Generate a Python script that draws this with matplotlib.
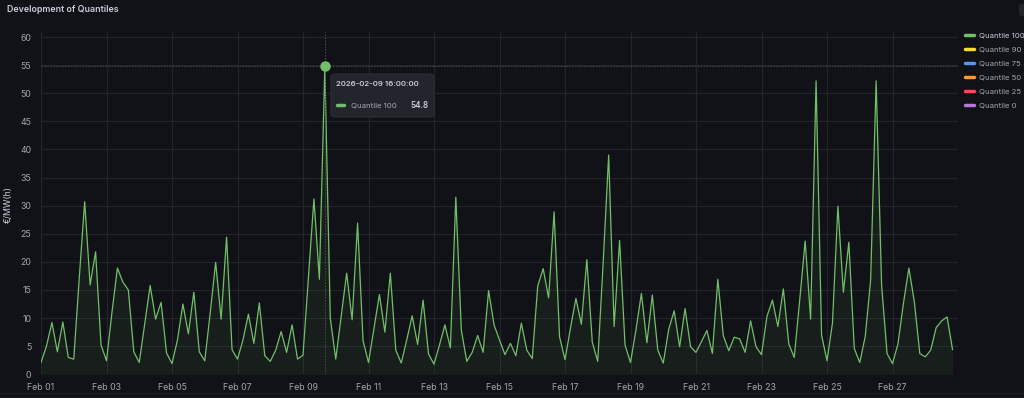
import matplotlib
matplotlib.use("Agg")
import matplotlib.pyplot as plt
import matplotlib.dates as mdates
from matplotlib.patches import FancyBboxPatch
from matplotlib.lines import Line2D
import pandas as pd

plt.rcParams['font.family'] = ['Inter', 'DejaVu Sans']

# ---------------- data ----------------
title = "Development of Quantiles"
y_label = "€/MW(h)"
start_time = "2026-02-01 00:00"
step = "4h"
quantile_100 = [
    2.1, 5.0, 9.2, 4.0, 9.3, 3.0, 2.7, 17.0, 30.7, 15.9, 21.8, 5.2,
    2.4, 11.0, 18.9, 16.4, 15.0, 4.0, 2.1, 9.0, 15.8, 9.8, 12.8, 3.8,
    1.9, 6.1, 12.5, 7.2, 14.6, 4.0, 2.4, 10.9, 19.9, 9.8, 24.4, 4.4,
    2.7, 6.1, 10.7, 5.5, 12.7, 3.3, 2.3, 4.3, 7.6, 3.9, 8.8, 2.7,
    3.4, 17.3, 31.2, 16.9, 54.8, 10.0, 2.7, 10.3, 18.0, 9.7, 26.9, 6.0,
    2.1, 8.2, 14.2, 7.5, 18.0, 4.3, 2.0, 6.1, 10.4, 5.3, 13.2, 3.6,
    1.8, 5.2, 8.8, 4.7, 31.5, 7.9, 2.3, 3.9, 6.9, 3.9, 14.9, 8.8,
    6.1, 3.5, 5.5, 3.3, 9.1, 4.3, 2.8, 15.7, 18.8, 13.6, 28.9, 6.7,
    2.6, 8.2, 13.5, 8.9, 20.4, 5.7, 2.3, 20.0, 39.0, 8.5, 23.8, 5.2,
    2.1, 7.9, 14.4, 5.6, 14.1, 4.3, 2.0, 8.0, 11.3, 4.9, 11.7, 4.9,
    3.9, 5.8, 7.8, 3.7, 16.9, 6.9, 4.2, 6.6, 6.3, 3.9, 9.5, 4.9,
    3.5, 10.3, 13.2, 8.5, 15.2, 5.4, 3.0, 13.2, 23.7, 9.8, 52.2, 7.0,
    2.4, 9.1, 29.9, 14.6, 23.5, 4.6, 2.1, 6.7, 16.8, 52.2, 15.9, 3.7,
    1.9, 5.4, 12.6, 18.9, 12.9, 3.7, 3.1, 4.3, 8.3, 9.5, 10.2, 4.4,
]
legend_names = ["Quantile 100", "Quantile 90", "Quantile 75",
                "Quantile 50", "Quantile 25", "Quantile 0"]
legend_colors = ["#73BF69", "#FADE2A", "#5794F2", "#FF9830", "#F2495C", "#B877D9"]
y_ticks = [0, 5, 10, 15, 20, 25, 30, 35, 40, 45, 50, 55, 60]
x_tick_dates = ["2026-02-01", "2026-02-03", "2026-02-05", "2026-02-07",
                "2026-02-09", "2026-02-11", "2026-02-13", "2026-02-15",
                "2026-02-17", "2026-02-19", "2026-02-21", "2026-02-23",
                "2026-02-25", "2026-02-27"]
hover_time = "2026-02-09 16:00:00"
hover_value = 54.8

# ---------------- figure ----------------
W, H = 1024, 398
BG = "#111217"
GRID = "#23252b"
TXT = "#ccccdc"
TXT2 = "#a3a5ae"

fig = plt.figure(figsize=(W / 100, H / 100), dpi=100, facecolor=BG)

def fx(x):
    return x / W

def fy(y):
    return 1 - y / H

ax_left, ax_right, ax_top, ax_bottom = 41, 958, 32, 374.3
ax = fig.add_axes([fx(ax_left), fy(ax_bottom), (ax_right - ax_left) / W,
                   (ax_bottom - ax_top) / H])
ax.set_facecolor(BG)

times = pd.date_range(start_time, periods=len(quantile_100), freq=step)
green = legend_colors[0]
ax.plot(times, quantile_100, color=green, lw=0.9, zorder=3)
ax.fill_between(times, quantile_100, 0, color=green, alpha=0.07, lw=0, zorder=2)

ax.set_xlim(pd.Timestamp("2026-02-01"), pd.Timestamp("2026-03-01"))
ax.set_ylim(0, 60.9)
ax.set_yticks(y_ticks)
ax.set_xticks(pd.to_datetime(x_tick_dates))
ax.xaxis.set_major_formatter(mdates.DateFormatter("%b %d"))
ax.grid(True, color=GRID, lw=0.8, zorder=0)
ax.set_axisbelow(True)
for s in ax.spines.values():
    s.set_visible(False)
ax.tick_params(axis="both", length=0, colors=TXT2, labelsize=6.3)
ax.tick_params(axis="x", pad=6)
ax.tick_params(axis="y", pad=7)

# crosshair and hover point
ht = pd.Timestamp(hover_time)
ax.axvline(ht, color="#4a4d55", lw=0.7, ls=(0, (1.5, 1.5)), zorder=4)
ax.axhline(hover_value, color="#4a4d55", lw=0.7, ls=(0, (1.5, 1.5)), zorder=4)
ax.plot([ht], [hover_value], "o", color=green, ms=6.5, zorder=6,
        markeredgecolor=green)

# y label
fig.text(fx(8), fy(205), y_label, rotation=90, color=TXT, fontsize=6.3,
         ha="center", va="center")

# title
fig.text(fx(7), fy(9), title, color=TXT, fontsize=6.4, fontweight="semibold",
         ha="left", va="center")

# legend
rows = [35, 49, 63, 77, 91, 105]
for name, col, yy in zip(legend_names, legend_colors, rows):
    fig.add_artist(Line2D([fx(965), fx(974)], [fy(yy), fy(yy)], color=col,
                          lw=2.5, solid_capstyle="round"))
    fig.text(fx(979), fy(yy), name, color=TXT if name == legend_names[0] else TXT2,
             fontsize=5.6, ha="left", va="center")

# small button top-right
fig.add_artist(FancyBboxPatch((fx(1019), fy(16)), fx(12), 12 / H,
                              boxstyle="round,pad=0,rounding_size=0.004",
                              fc="#22252b", ec="none", transform=fig.transFigure))

# tooltip
tb = FancyBboxPatch((fx(331), fy(117)), fx(103), 43 / H,
                    boxstyle="round,pad=0,rounding_size=0.006",
                    fc="#22252b", ec="#2c2f36", lw=0.8,
                    transform=fig.transFigure, zorder=10)
fig.add_artist(tb)
fig.text(fx(336), fy(84.5), hover_time, color=TXT, fontsize=5.6,
         fontweight="semibold", ha="left", va="center", zorder=11)
fig.add_artist(Line2D([fx(337), fx(344)], [fy(105), fy(105)], color=green,
                      lw=2.5, solid_capstyle="round", zorder=11))
fig.text(fx(351), fy(105), "Quantile 100", color=TXT2, fontsize=5.6,
         ha="left", va="center", zorder=11)
fig.text(fx(429), fy(105), f"{hover_value}", color=TXT, fontsize=5.8,
         fontweight="semibold", ha="right", va="center", zorder=11)

# bottom separator
fig.add_artist(Line2D([0, 1], [fy(393), fy(393)], color="#1c1e23", lw=0.8))

fig.savefig("out.png", dpi=100, facecolor=BG)
